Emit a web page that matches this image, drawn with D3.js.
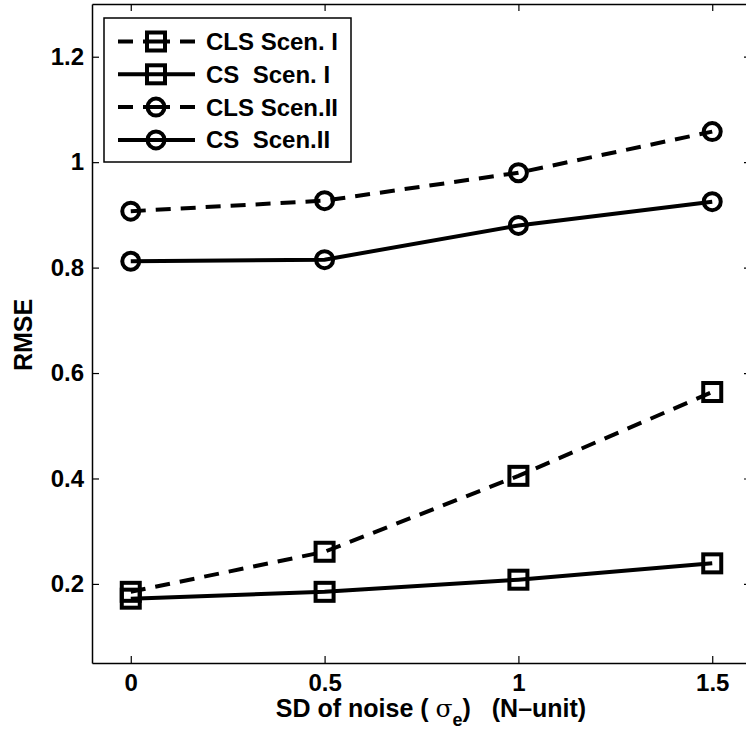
<!DOCTYPE html>
<html>
<head>
<meta charset="utf-8">
<script src="https://cdn.jsdelivr.net/npm/d3@7"></script>
<style>
  body { margin: 0; background: #fff; }
  svg { font-family: "Liberation Sans", Arial, sans-serif; font-weight: bold; }
  text { white-space: pre; }
</style>
</head>
<body>
<div id="chart"></div>
<script>
// data
var noiseSD = [0, 0.5, 1, 1.5];
var clsScen1 = [0.185, 0.261, 0.405, 0.564];
var csScen1 = [0.172, 0.185, 0.208, 0.239];
var clsScen2 = [0.907, 0.927, 0.980, 1.058];
var csScen2 = [0.812, 0.815, 0.880, 0.925];

var seriesNames = ["CLS Scen. I", "CS  Scen. I", "CLS Scen.II", "CS  Scen.II"];
var xTicks = [0, 0.5, 1, 1.5];
var yTicks = [0.2, 0.4, 0.6, 0.8, 1, 1.2];

var series = [
  { name: seriesNames[0], values: clsScen1, dashed: true, marker: "square" },
  { name: seriesNames[1], values: csScen1, dashed: false, marker: "square" },
  { name: seriesNames[2], values: clsScen2, dashed: true, marker: "circle" },
  { name: seriesNames[3], values: csScen2, dashed: false, marker: "circle" }
];

var W = 746, H = 732;
var plotL = 92, plotR = 751, plotT = 4, plotB = 663;
var fontSize = 24;

var svg = d3.select("#chart").append("svg")
  .attr("width", W)
  .attr("height", H);

var x = d3.scaleLinear().domain([-0.1, 1.6]).range([plotL, plotR]);
var y = d3.scaleLinear().domain([0.05, 1.3]).range([plotB, plotT]);

// axes (ticks inward, box all round)
svg.append("g")
  .attr("transform", "translate(0," + plotB + ")")
  .call(d3.axisBottom(x).tickValues(xTicks).tickFormat(d3.format("")).tickSize(-7).tickSizeOuter(0).tickPadding(11));
svg.append("g")
  .attr("transform", "translate(" + plotL + ",0)")
  .call(d3.axisLeft(y).tickValues(yTicks).tickFormat(d3.format("")).tickSize(-7).tickSizeOuter(0).tickPadding(8));
svg.append("g")
  .attr("transform", "translate(0," + plotT + ")")
  .call(d3.axisTop(x).tickValues(xTicks).tickFormat("").tickSize(-7).tickSizeOuter(0));
svg.append("g")
  .attr("transform", "translate(" + plotR + ",0)")
  .call(d3.axisRight(y).tickValues(yTicks).tickFormat("").tickSize(-7).tickSizeOuter(0));

svg.selectAll(".domain").attr("stroke", "#000").attr("stroke-width", 1.5);
svg.selectAll(".tick line").attr("stroke", "#000").attr("stroke-width", 1.2);
svg.selectAll(".tick text")
  .attr("fill", "#000")
  .style("font-size", fontSize + "px")
  .style("font-weight", "bold")
  .style("font-family", "'Liberation Sans', Arial, sans-serif");

// axis labels
svg.append("text")
  .attr("transform", "translate(32,335) rotate(-90)")
  .attr("text-anchor", "middle")
  .style("font-size", "25px")
  .text("RMSE");

var xl = svg.append("text")
  .attr("x", 431)
  .attr("y", 717)
  .attr("text-anchor", "middle")
  .style("font-size", "25px");
xl.append("tspan").text("SD of noise ( ");
xl.append("tspan").style("font-weight", "normal").style("font-family", "'DejaVu Serif', serif").text("σ");
xl.append("tspan").attr("dy", 9).style("font-size", "18px").text("e");
xl.append("tspan").attr("dy", -9).text(")   (N\u2013unit)");

// lines and markers
var line = d3.line()
  .x(function(d, i) { return x(noiseSD[i]); })
  .y(function(d) { return y(d); });

function drawMarker(g, kind, cx, cy) {
  if (kind === "square") {
    g.append("rect")
      .attr("x", cx - 9).attr("y", cy - 9)
      .attr("width", 18).attr("height", 18)
      .attr("fill", "none").attr("stroke", "#000").attr("stroke-width", 4);
  } else {
    g.append("circle")
      .attr("cx", cx).attr("cy", cy).attr("r", 8.5)
      .attr("fill", "none").attr("stroke", "#000").attr("stroke-width", 4);
  }
}

series.forEach(function(s) {
  svg.append("path")
    .datum(s.values)
    .attr("d", line)
    .attr("fill", "none")
    .attr("stroke", "#000")
    .attr("stroke-width", 4)
    .attr("stroke-dasharray", s.dashed ? "15,10" : null);
  var g = svg.append("g");
  s.values.forEach(function(v, i) {
    drawMarker(g, s.marker, x(noiseSD[i]), y(v));
  });
});

// legend
var lg = svg.append("g");
lg.append("rect")
  .attr("x", 104).attr("y", 18)
  .attr("width", 247).attr("height", 144)
  .attr("fill", "#fff").attr("stroke", "#000").attr("stroke-width", 1.5);

series.forEach(function(s, i) {
  var cy = 41.5 + i * 32.8;
  lg.append("line")
    .attr("x1", 118).attr("x2", 195)
    .attr("y1", cy).attr("y2", cy)
    .attr("stroke", "#000").attr("stroke-width", 4)
    .attr("stroke-dasharray", s.dashed ? "15,10,27,10,15" : null);
  drawMarker(lg, s.marker, 156, cy);
  lg.append("text")
    .attr("x", 206)
    .attr("y", cy + 8.5)
    .style("font-size", fontSize + "px")
    .text(s.name);
});
</script>
</body>
</html>
